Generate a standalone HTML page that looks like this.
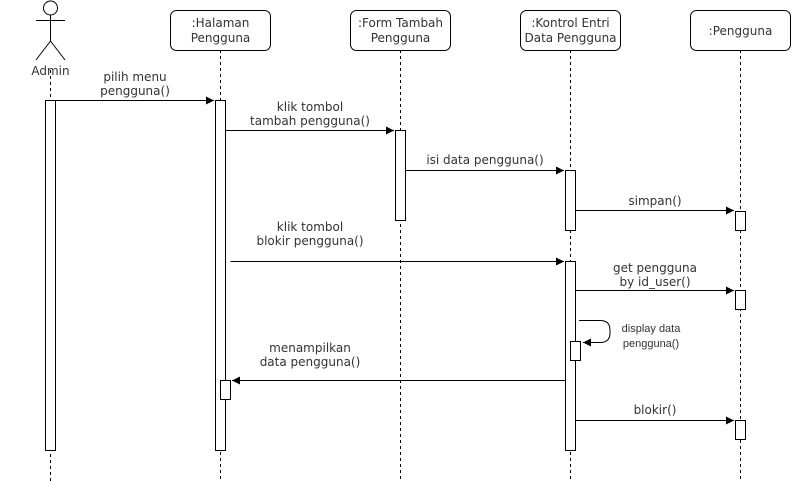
<!DOCTYPE html>
<html><head><meta charset="utf-8"><style>
html,body{margin:0;padding:0;background:#fff;}
svg{display:block;}
text{font-family:"DejaVu Sans","Liberation Sans",sans-serif;font-size:12px;fill:#333;}
.s{font-family:"Liberation Sans",sans-serif;font-size:11px;}
</style></head><body>
<svg width="791" height="481" viewBox="0 0 791 481" xmlns="http://www.w3.org/2000/svg">
<defs><marker id="a" markerWidth="10" markerHeight="10" refX="8" refY="4" orient="auto" markerUnits="userSpaceOnUse"><path d="M0,0 L8,4 L0,8 z" fill="#000"/></marker></defs>
<g stroke="#000" fill="none" stroke-width="1">
<!-- actor -->
<circle cx="50.5" cy="8" r="7" fill="#fff"/>
<line x1="50.5" y1="15" x2="50.5" y2="41"/>
<line x1="36" y1="20.5" x2="65" y2="20.5"/>
<line x1="50.5" y1="41" x2="36" y2="60"/>
<line x1="50.5" y1="41" x2="65" y2="60"/>
<!-- lifelines -->
<g stroke-dasharray="3,3">
<line x1="50.5" y1="70" x2="50.5" y2="481"/>
<line x1="220.5" y1="50" x2="220.5" y2="481"/>
<line x1="400.5" y1="50" x2="400.5" y2="481"/>
<line x1="570.5" y1="50" x2="570.5" y2="481"/>
<line x1="740.5" y1="50" x2="740.5" y2="481"/>
</g>
<!-- heads -->
<rect x="170.5" y="10.5" width="100" height="40" rx="6" fill="#fff"/>
<rect x="350.5" y="10.5" width="100" height="40" rx="6" fill="#fff"/>
<rect x="520.5" y="10.5" width="100" height="40" rx="6" fill="#fff"/>
<rect x="690.5" y="10.5" width="100" height="40" rx="6" fill="#fff"/>
<!-- activations -->
<rect x="45.5" y="100.5" width="10" height="350" fill="#fff"/>
<rect x="215.5" y="100.5" width="10" height="350" fill="#fff"/>
<rect x="220.5" y="380.5" width="10" height="19" fill="#fff"/>
<rect x="395.5" y="130.5" width="10" height="90" fill="#fff"/>
<rect x="565.5" y="170.5" width="10" height="60" fill="#fff"/>
<rect x="565.5" y="261.5" width="10" height="189" fill="#fff"/>
<rect x="570.5" y="341.5" width="10" height="19" fill="#fff"/>
<rect x="735.5" y="211.5" width="10" height="19" fill="#fff"/>
<rect x="735.5" y="290.5" width="10" height="19" fill="#fff"/>
<rect x="735.5" y="420.5" width="10" height="19" fill="#fff"/>
<!-- messages -->
<line x1="55.5" y1="100.5" x2="214" y2="100.5" marker-end="url(#a)"/>
<line x1="225.5" y1="130.5" x2="394" y2="130.5" marker-end="url(#a)"/>
<line x1="405.5" y1="170.5" x2="564" y2="170.5" marker-end="url(#a)"/>
<line x1="575.5" y1="210.5" x2="734" y2="210.5" marker-end="url(#a)"/>
<line x1="230.5" y1="261.5" x2="564" y2="261.5" marker-end="url(#a)"/>
<line x1="575.5" y1="290.5" x2="734" y2="290.5" marker-end="url(#a)"/>
<path d="M579,320.5 H600 Q610,320.5 610,330 V333 Q610,342.5 600,342.5 H583" marker-end="url(#a)"/>
<line x1="565.5" y1="380.5" x2="232" y2="380.5" marker-end="url(#a)"/>
<line x1="575.5" y1="420.5" x2="734" y2="420.5" marker-end="url(#a)"/>
</g>
<g text-anchor="middle">
<text x="50.5" y="75">Admin</text>
<text x="220.5" y="27">:Halaman</text><text x="220.5" y="42">Pengguna</text>
<text x="400.5" y="27">:Form Tambah</text><text x="400.5" y="42">Pengguna</text>
<text x="570.5" y="27">:Kontrol Entri</text><text x="570.5" y="42">Data Pengguna</text>
<text x="740.5" y="35">:Pengguna</text>
<text x="135" y="81">pilih menu</text><text x="135" y="95">pengguna()</text>
<text x="310" y="111">klik tombol</text><text x="310" y="125">tambah pengguna()</text>
<text x="485" y="164">isi data pengguna()</text>
<text x="655" y="205">simpan()</text>
<text x="310" y="231">klik tombol</text><text x="310" y="245">blokir pengguna()</text>
<text x="655" y="272">get pengguna</text><text x="655" y="286">by id_user()</text>
<text class="s" x="651" y="332">display data</text><text class="s" x="651" y="347">pengguna()</text>
<text x="310" y="352">menampilkan</text><text x="310" y="366">data pengguna()</text>
<text x="655" y="414">blokir()</text>
</g>
</svg>
</body></html>
